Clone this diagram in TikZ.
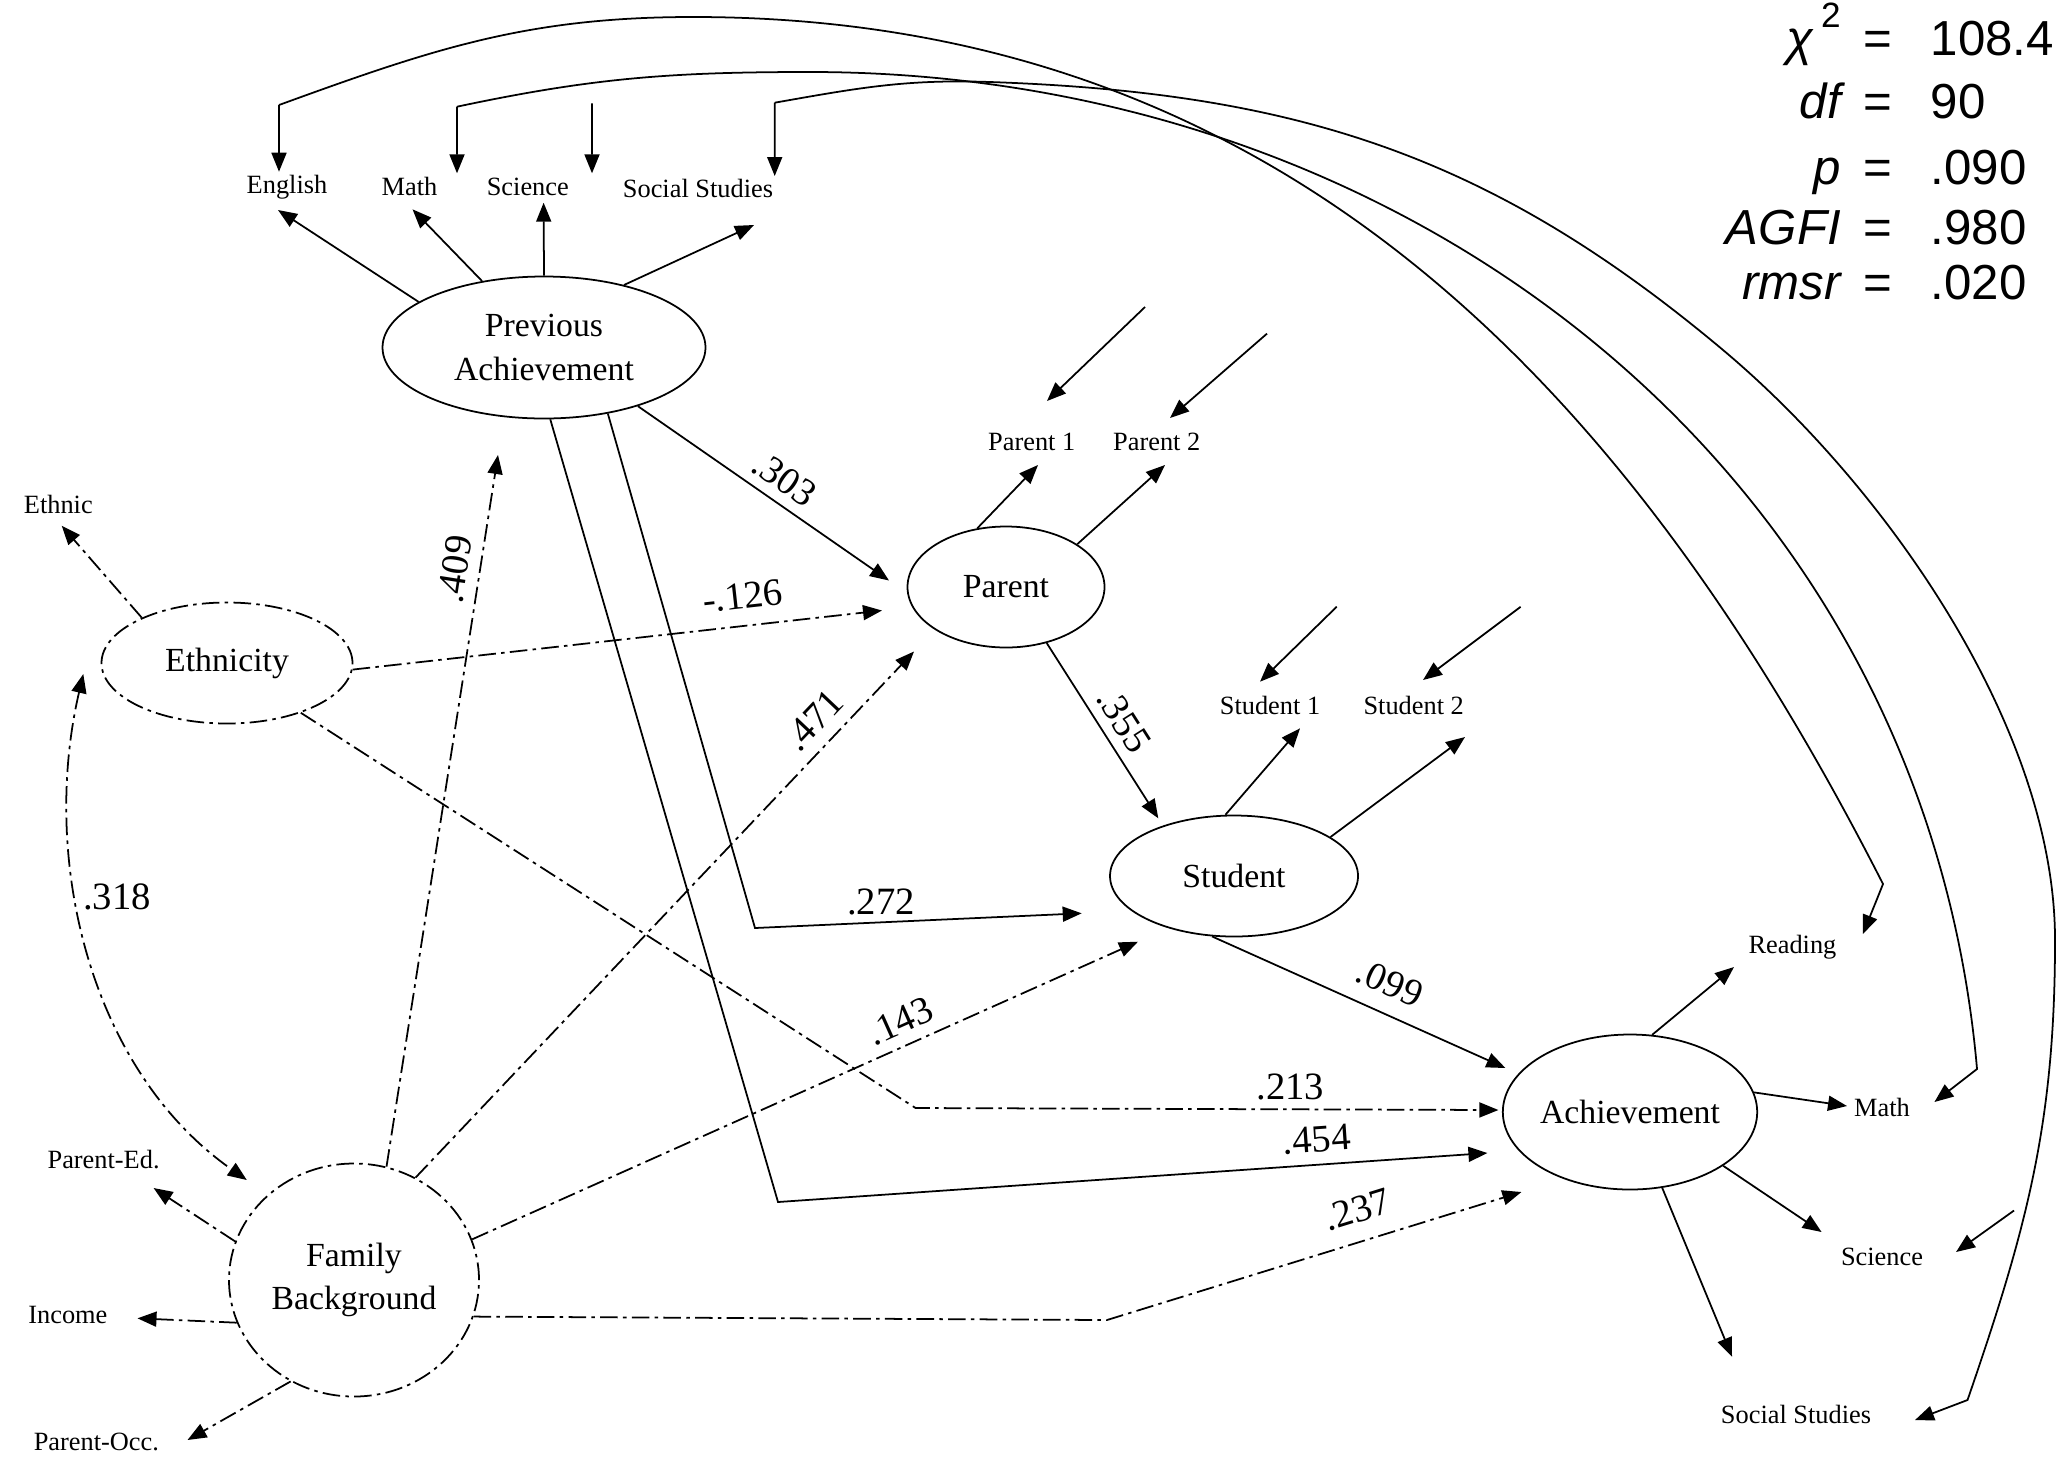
\documentclass[tikz,border=0pt]{standalone}
\usepackage{fontspec}
\setmainfont{Liberation Serif}
\setsansfont{Liberation Sans}
\usetikzlibrary{shapes.geometric}
\usetikzlibrary{arrows.meta}

\begin{document}
\begin{tikzpicture}[
  lat/.style={draw, ellipse, inner sep=0pt, line width=0.5pt, align=center,
    font=\fontsize{9.6}{12.3}\selectfont},
  faint/.style={dash pattern=on 5pt off 1.5pt on 1pt off 1.5pt},
  ind/.style={inner sep=1pt, font=\fontsize{7.5}{9}\selectfont},
  coef/.style={inner sep=1pt, font=\fontsize{11}{13}\selectfont},
  arr/.style={-{Triangle[length=1.9mm,width=1.5mm]}, line width=0.5pt},
  darr/.style={arr, faint},
  biarr/.style={{Triangle[length=1.9mm,width=1.5mm]}-{Triangle[length=1.9mm,width=1.5mm]},
    line width=0.5pt, faint},
  gof/.style={anchor=base west, inner sep=0pt, font=\sffamily\fontsize{14}{16}\selectfont}
]
\fill[white] (0,0) rectangle (20.59,-14.66);
\useasboundingbox (0,0) rectangle (20.59,-14.66);

%% Latent variables
\node[lat, minimum width=3.23cm, minimum height=1.42cm] (pa) at (5.44,-3.475) {Previous\\Achievement};
\node[lat, faint, minimum width=2.51cm, minimum height=1.21cm] (eth) at (2.27,-6.63) {Ethnicity};
\node[lat, minimum width=1.97cm, minimum height=1.21cm] (par) at (10.06,-5.87) {Parent};
\node[lat, minimum width=2.48cm, minimum height=1.21cm] (stu) at (12.34,-8.76) {Student};
\node[lat, minimum width=2.47cm, minimum height=1.55cm] (ach) at (16.30,-11.12) {Achievement};
\node[lat, faint, minimum width=2.50cm, minimum height=2.33cm] (fb) at (3.54,-12.80) {Family\\Background};

%% Indicators
\node[ind] (eng)  at (2.87,-1.867)  {English};
\node[ind] (mth)  at (4.095,-1.867) {Math};
\node[ind] (sci)  at (5.278,-1.867) {Science};
\node[ind] (soc)  at (6.98,-1.883)  {Social Studies};
\node[ind] (ethn) at (0.583,-5.043) {Ethnic};
\node[ind] (p1)   at (10.317,-4.417) {Parent 1};
\node[ind] (p2)   at (11.567,-4.417) {Parent 2};
\node[ind] (s1)   at (12.70,-7.05)  {Student 1};
\node[ind] (s2)   at (14.137,-7.05) {Student 2};
\node[ind] (rd)   at (17.924,-9.47) {Reading};
\node[ind] (am)   at (18.82,-11.076) {Math};
\node[ind] (as)   at (18.82,-12.57) {Science};
\node[ind] (ass)  at (17.96,-14.14) {Social Studies};
\node[ind] (ped)  at (1.036,-11.60) {Parent-Ed.};
\node[ind] (inc)  at (0.679,-13.15) {Income};
\node[ind] (pocc) at (0.964,-14.417) {Parent-Occ.};

%% Fit statistics
\node[gof] (chi)  at (16.90,-0.55) {\makebox[1.5cm][r]{\itshape χ\,\raisebox{0.55em}{\upshape\fontsize{10}{10}\selectfont 2}}\makebox[0.74cm]{=}\hspace{0.16cm}108.4};
\node[gof] (df)   at (16.90,-1.18) {\makebox[1.5cm][r]{\itshape df}\makebox[0.74cm]{=}\hspace{0.16cm}90};
\node[gof] (pval) at (16.90,-1.84) {\makebox[1.5cm][r]{\itshape p}\makebox[0.74cm]{=}\hspace{0.16cm}.090};
\node[gof] (agfi) at (16.90,-2.44) {\makebox[1.5cm][r]{\itshape AGFI}\makebox[0.74cm]{=}\hspace{0.16cm}.980};
\node[gof] (rmsr) at (16.90,-2.99) {\makebox[1.5cm][r]{\itshape rmsr}\makebox[0.74cm]{=}\hspace{0.16cm}.020};

%% Bend points and free ends
\coordinate (engc)    at (2.79,-1.05);
\coordinate (engpk)   at (6.93,-0.17);
\coordinate (engbend) at (18.83,-8.84);
\coordinate (mthc)    at (4.57,-1.067);
\coordinate (mthpk)   at (8.10,-0.72);
\coordinate (mthbend) at (19.77,-10.69);
\coordinate (socc)    at (7.747,-1.027);
\coordinate (socpk)   at (9.90,-0.82);
\coordinate (socmid)  at (17.23,-3.50);
\coordinate (socright) at (20.55,-9.40);
\coordinate (socbend) at (19.675,-14.00);
\coordinate (scie)    at (5.92,-1.033);
\coordinate (p1e)     at (11.45,-3.07);
\coordinate (p2e)     at (12.67,-3.336);
\coordinate (s1e)     at (13.367,-6.067);
\coordinate (s2e)     at (15.206,-6.068);
\coordinate (ase)     at (20.14,-12.105);
\coordinate (c272)    at (7.55,-9.28);
\coordinate (c454)    at (7.78,-12.02);
\coordinate (c213)    at (9.156,-11.08);
\coordinate (c237)    at (11.07,-13.20);

%% Previous Achievement -> indicators
\draw[arr] (pa.160) -- ([shift={(-0.09,-0.233)}]eng.center);
\draw[arr] (pa.133) -- ([shift={(0.03,-0.226)}]mth.center);
\draw[arr] (pa.90)  -- ([shift={(0.158,-0.16)}]sci.center);
\draw[arr] (pa.38)  -- ([shift={(0.56,-0.367)}]soc.center);

%% Errors of the indicators
\draw[arr] (engc) -- ([shift={(-0.08,0.15)}]eng.center);
\draw[arr] (mthc) -- ([shift={(0.475,0.134)}]mth.center);
\draw[arr] (scie) -- ([shift={(0.642,0.134)}]sci.center);
\draw[arr] (socc) -- ([shift={(0.767,0.123)}]soc.center);
\draw[arr] (p1e) -- ([shift={(0.153,0.407)}]p1.center);
\draw[arr] (p2e) -- ([shift={(0.133,0.237)}]p2.center);
\draw[arr] (s1e) -- ([shift={(-0.10,0.233)}]s1.center);
\draw[arr] (s2e) -- ([shift={(0.093,0.25)}]s2.center);
\draw[arr] (ase) -- ([shift={(0.74,0.05)}]as.center);

%% Correlated errors
\draw[arr] (engc) to[out=20,in=180] (engpk) to[out=0,in=117] (engbend)
  -- ([shift={(0.705,0.13)}]rd.center);
\draw[arr] (mthc) to[out=12,in=180] (mthpk) to[out=0,in=95] (mthbend)
  -- ([shift={(0.524,0.056)}]am.center);
\draw[arr] (socc) to[out=10,in=178] (socpk) to[out=-2,in=140] (socmid)
  to[out=-40,in=90,looseness=0.8] (socright) to[out=-90,in=71] (socbend)
  -- ([shift={(1.19,-0.06)}]ass.center);

%% Ethnicity and Family Background -> indicators
\draw[darr] (eth.152) -- ([shift={(0.034,-0.214)}]ethn.center);
\draw[darr] (fb.162) -- ([shift={(0.50,-0.28)}]ped.center);
\draw[darr] (fb.200) -- ([shift={(0.696,-0.033)}]inc.center);
\draw[darr] (fb.238) -- ([shift={(0.911,0.017)}]pocc.center);
\draw[biarr] ([shift={(-1.437,-0.11)}]eth.center) .. controls (0.40,-8.60) and (0.90,-10.70)
  .. ([shift={(-1.072,1.00)}]fb.center);
\node[coef] at (1.17,-8.97) {.318};

%% Parent, Student, Achievement -> indicators
\draw[arr] (par.116) -- ([shift={(0.063,-0.233)}]p1.center);
\draw[arr] (par.31)  -- ([shift={(0.083,-0.233)}]p2.center);
\draw[arr] (stu.98)  -- ([shift={(0.30,-0.233)}]s1.center);
\draw[arr] (stu.22)  -- ([shift={(0.513,-0.32)}]s2.center);
\draw[arr] (ach.74)  -- ([shift={(-0.584,-0.20)}]rd.center);
\draw[arr] (ach.9)   -- ([shift={(-0.35,0.016)}]am.center);
\draw[arr] (ach.-30) -- ([shift={(-0.604,0.25)}]as.center);
\draw[arr] (ach.-67) -- ([shift={(-0.64,0.573)}]ass.center);

%% Paths
\draw[arr] (pa.-32) -- node[coef, sloped, above=0.6mm, pos=0.53] {.303} ([shift={(-1.17,0.065)}]par.center);
\draw[darr] (eth.-3) -- node[coef, sloped, above=1.2mm, pos=0.743] {-.126} ([shift={(-1.24,-0.235)}]par.center);
\draw[darr] (fb.59) -- node[coef, sloped, above=0.8mm, pos=0.835] {.471} ([shift={(-0.92,-0.645)}]par.center);
\draw[darr] (fb.74) -- node[coef, sloped, above=0.7mm, pos=0.834] {.409} ([shift={(-0.46,-1.075)}]pa.center);
\draw[arr] (par.-54) -- node[coef, sloped, above=0.6mm, pos=0.514] {.355} ([shift={(-0.757,0.577)}]stu.center);
\draw[arr] (pa.-46) -- (c272) -- node[coef, above=0.3mm, pos=0.386] {.272} ([shift={(-1.523,-0.373)}]stu.center);
\draw[darr] (fb.19) -- node[coef, sloped, above=0.7mm, pos=0.658] {.143} ([shift={(-0.96,-0.657)}]stu.center);
\draw[arr] (stu.-110) -- node[coef, sloped, above=1.3mm, pos=0.564] {.099} ([shift={(-1.246,0.44)}]ach.center);
\draw[darr] (eth.-34) -- (c213) -- node[coef, above=0.5mm, pos=0.643] {.213} ([shift={(-1.316,0.02)}]ach.center);
\draw[arr] (pa.-85) -- (c454) -- node[coef, sloped, above=0.8mm, pos=0.762] {.454} ([shift={(-1.426,-0.41)}]ach.center);
\draw[darr] (fb.-17) -- (c237) -- node[coef, sloped, above=1.4mm, pos=0.626] {.237} ([shift={(-1.086,-0.80)}]ach.center);

\end{tikzpicture}
\end{document}
